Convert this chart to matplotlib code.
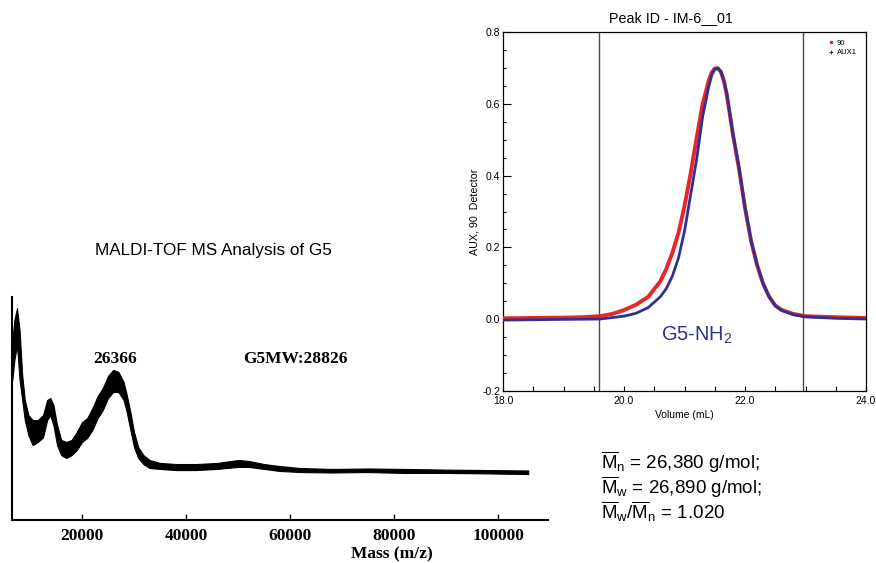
import matplotlib
matplotlib.use("Agg")
import matplotlib.pyplot as plt
from matplotlib.lines import Line2D
from matplotlib.ticker import MultipleLocator, FixedLocator

plt.rcParams["font.family"] = ["Liberation Sans", "DejaVu Sans"]
plt.rcParams["mathtext.fontset"] = "custom"
plt.rcParams["mathtext.rm"] = "Liberation Sans"
plt.rcParams["mathtext.it"] = "Liberation Sans:italic"

# MALDI-TOF spectrum, read as upper / lower edge of the noisy trace (arb. units)
mass = [6600, 7000, 7500, 8000, 8500, 9000, 9700, 10500, 11500, 12500, 13300,
        13900, 14500, 15200, 16000, 17000, 18000, 19000, 20000, 21000, 22000,
        23000, 24000, 25000, 26000, 27000, 28000, 28600, 29300, 30000, 30800,
        31800, 33000, 35000, 38000, 42000, 46000, 50000, 52000, 55000, 58000,
        62000, 68000, 75000, 82000, 90000, 98000, 105800]
ms_upper = [80.7, 89.7, 95.0, 85.0, 65.0, 53.8, 47.0, 44.8, 44.8, 47.0, 53.8,
            54.7, 51.6, 42.6, 35.9, 35.0, 35.9, 39.5, 43.9, 45.7, 50.2,
            55.6, 59.2, 64.6, 67.3, 66.4, 61.9, 56.1, 48.4, 39.5, 32.7,
            29.1, 26.9, 25.6, 25.1, 25.1, 25.6, 26.9, 26.5, 25.1, 24.2,
            23.3, 22.9, 23.1, 22.9, 22.6, 22.4, 22.2]
ms_lower = [62.8, 71.7, 78.5, 62.8, 53.8, 44.8, 38.0, 33.6, 35.0, 37.0, 44.8,
            47.0, 42.6, 33.6, 29.1, 27.8, 29.1, 31.4, 35.0, 36.8, 40.4,
            45.7, 49.3, 54.7, 57.4, 57.4, 53.8, 48.4, 40.4, 32.7, 27.8,
            25.1, 23.3, 22.9, 22.4, 22.4, 22.9, 23.8, 23.8, 22.9, 22.0,
            21.5, 21.3, 21.5, 21.1, 21.1, 20.9, 20.6]
ms_ticks = [20000, 40000, 60000, 80000, 100000]

# SEC trace (volume in mL)
vol_90 = [18.0, 18.5, 19.0, 19.3, 19.6, 19.8, 20.0, 20.2, 20.4, 20.6, 20.7,
          20.8, 20.9, 21.0, 21.1, 21.2, 21.3, 21.4, 21.45, 21.5, 21.55, 21.6,
          21.65, 21.7, 21.8, 21.9, 22.0, 22.1, 22.2, 22.3, 22.4, 22.5, 22.6,
          22.8, 23.0, 23.5, 24.0]
det_90 = [0.002, 0.003, 0.004, 0.005, 0.008, 0.014, 0.025, 0.040, 0.062, 0.105,
          0.140, 0.185, 0.240, 0.315, 0.405, 0.505, 0.600, 0.665, 0.688, 0.699,
          0.700, 0.690, 0.665, 0.625, 0.515, 0.420, 0.310, 0.218, 0.150, 0.098,
          0.062, 0.038, 0.026, 0.014, 0.008, 0.005, 0.003]
vol_aux = [18.0, 18.5, 19.0, 19.6, 20.0, 20.2, 20.4, 20.6, 20.7, 20.8, 20.9,
           21.0, 21.1, 21.2, 21.3, 21.4, 21.45, 21.5, 21.55, 21.6, 21.65, 21.7,
           21.8, 21.9, 22.0, 22.1, 22.2, 22.3, 22.4, 22.5, 22.6, 22.8, 23.0,
           23.5, 24.0]
det_aux = [-0.003, -0.002, -0.001, 0.000, 0.008, 0.016, 0.032, 0.062, 0.085,
           0.120, 0.170, 0.245, 0.345, 0.445, 0.565, 0.648, 0.680, 0.697, 0.699,
           0.691, 0.667, 0.628, 0.518, 0.424, 0.312, 0.220, 0.152, 0.099, 0.062,
           0.037, 0.024, 0.012, 0.006, 0.002, 0.000]
cut_lines = [19.58, 22.96]

red = "#e8252b"
blue = "#2e3192"

fig = plt.figure(figsize=(8.76, 5.63), dpi=100)

# ---- MALDI panel ----
ax1 = fig.add_axes([12 / 876, 1 - 520 / 563, 536 / 876, 223 / 563])
ax1.patch.set_alpha(0)
ax1.fill_between(mass, ms_lower, ms_upper, color="black", lw=0.8)
ax1.set_xlim(6540, 109600)
ax1.set_ylim(0, 100)
for s in ["top", "right"]:
    ax1.spines[s].set_visible(False)
ax1.spines["left"].set_linewidth(1.5)
ax1.spines["bottom"].set_linewidth(1.5)
ax1.set_yticks([])
ax1.set_xticks(ms_ticks)
ax1.set_xticklabels([str(t) for t in ms_ticks], fontfamily="Liberation Serif",
                    fontweight="bold", fontsize=12.5)
ax1.tick_params(axis="x", direction="in", length=4, width=1, pad=6)
ax1.text(26366, 72, "26366", fontfamily="Liberation Serif", fontweight="bold",
         fontsize=12.5, ha="center", va="center")
ax1.text(61100, 72, "G5MW:28826", fontfamily="Liberation Serif", fontweight="bold",
         fontsize=12.5, ha="center", va="center")
fig.text(392 / 876, 1 - 554 / 563, "Mass (m/z)", fontfamily="Liberation Serif",
         fontweight="bold", fontsize=12.5, ha="center", va="center")
fig.text(213 / 876, 1 - 251 / 563, "MALDI-TOF MS Analysis of G5", fontsize=12.3,
         ha="center", va="center")

# ---- SEC panel ----
ax2 = fig.add_axes([503 / 876, 1 - 390.7 / 563, 363 / 876, 358.4 / 563])
ax2.patch.set_alpha(0)
ax2.plot(vol_90, det_90, color=red, lw=2.8, zorder=3)
ax2.plot(vol_aux, det_aux, color=blue, lw=2.0, zorder=4)
for v in cut_lines:
    ax2.axvline(v, color="#4a4a4a", lw=1, zorder=2)
ax2.set_xlim(18, 24)
ax2.set_ylim(-0.2, 0.8)
ax2.xaxis.set_major_locator(FixedLocator([18, 20, 22, 24]))
ax2.xaxis.set_minor_locator(MultipleLocator(0.5))
ax2.yaxis.set_major_locator(MultipleLocator(0.2))
ax2.yaxis.set_minor_locator(MultipleLocator(0.05))
ax2.set_xticklabels(["18.0", "20.0", "22.0", "24.0"], fontsize=7.5)
ax2.set_yticks([-0.2, 0.0, 0.2, 0.4, 0.6, 0.8])
ax2.set_yticklabels(["-0.2", "0.0", "0.2", "0.4", "0.6", "0.8"], fontsize=7.5)
ax2.tick_params(axis="y", which="major", direction="in", length=6, width=0.8, pad=2)
ax2.tick_params(axis="y", which="minor", direction="in", length=2.5, width=0.8)
ax2.tick_params(axis="x", which="both", direction="in", length=3.4, width=0.8, pad=4)
for s in ax2.spines.values():
    s.set_linewidth(0.9)
ax2.set_xlabel("Volume (mL)", fontsize=7.5, labelpad=3)
ax2.set_ylabel("AUX, 90  Detector", fontsize=7.7, labelpad=2)
fig.text(671 / 876, 1 - 18 / 563, "Peak ID - IM-6__01", fontsize=10.3,
         ha="center", va="center")
ax2.text(21.2, -0.045, r"G5-NH$_2$", color=blue, fontsize=14.4,
         ha="center", va="center")

handles = [Line2D([], [], color=red, marker="s", ms=1.8, ls="none"),
           Line2D([], [], color=blue, marker="+", ms=3, mew=0.8, ls="none")]
ax2.legend(handles, ["90", "AUX1"], loc="upper right", bbox_to_anchor=(0.99, 0.995),
           frameon=False, fontsize=5.5, handlelength=0.8, handletextpad=0.4,
           labelspacing=0.3, borderaxespad=0.3)

# ---- molecular weight text ----
mw_lines = [r"$\overline{\mathrm{M}}_{\mathrm{n}}$ = 26,380 g/mol;",
            r"$\overline{\mathrm{M}}_{\mathrm{w}}$ = 26,890 g/mol;",
            r"$\overline{\mathrm{M}}_{\mathrm{w}}/\overline{\mathrm{M}}_{\mathrm{n}}$ = 1.020"]
for i, line in enumerate(mw_lines):
    fig.text(601 / 876, 1 - (462 + 25 * i) / 563, line, fontsize=13.5,
             ha="left", va="center")

fig.savefig("out.png", dpi=100)
